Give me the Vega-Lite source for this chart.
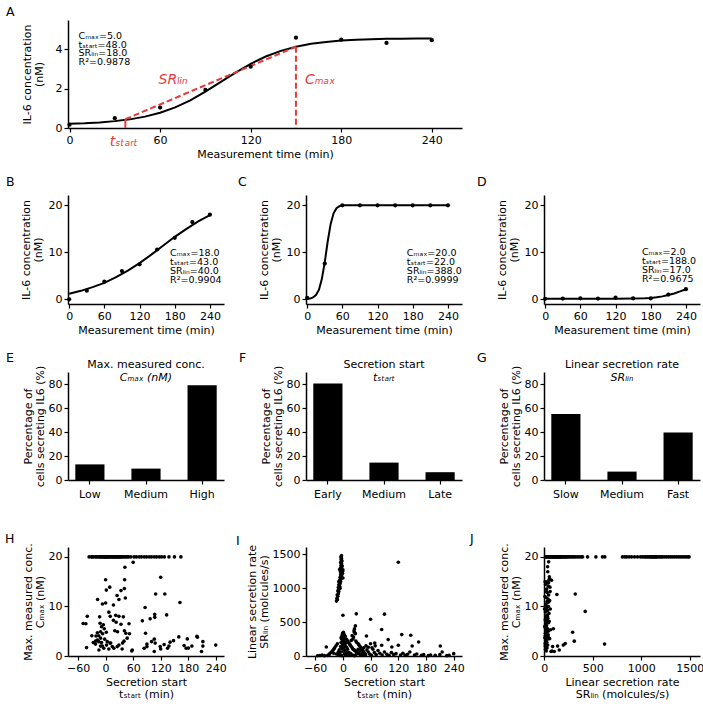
{
  "$schema": "https://vega.github.io/schema/vega-lite/v6.json",
  "background": "white",
  "padding": 5,
  "config": {
    "font": "DejaVu Sans",
    "view": {"stroke": null},
    "axis": {
      "grid": false, "domainColor": "black", "domainWidth": 1.5,
      "tickColor": "black", "tickWidth": 1.2, "tickSize": 4,
      "labelFontSize": 11, "labelColor": "black", "labelFlush": false, "labelPadding": 2,
      "titleFontSize": 11, "titleFontWeight": "normal", "titleColor": "black", "titlePadding": 3, "titleLineHeight": 12
    },
    "title": {"fontSize": 12.5, "fontWeight": "normal", "anchor": "start", "color": "black", "frame": "group"}
  },
  "datasets": {
    "ptsA": [
      {"t": 0, "c": 0.17}, {"t": 30, "c": 0.5}, {"t": 60, "c": 1.04}, {"t": 90, "c": 1.94}, {"t": 120, "c": 3.12},
      {"t": 150, "c": 4.6}, {"t": 180, "c": 4.5}, {"t": 210, "c": 4.33}, {"t": 240, "c": 4.47}
    ],
    "fitA": [
      {"t": 0, "c": 0.22}, {"t": 10, "c": 0.24}, {"t": 20, "c": 0.28}, {"t": 30, "c": 0.35}, {"t": 40, "c": 0.44},
      {"t": 50, "c": 0.58}, {"t": 60, "c": 0.78}, {"t": 70, "c": 1.05}, {"t": 80, "c": 1.41}, {"t": 90, "c": 1.85},
      {"t": 100, "c": 2.34}, {"t": 110, "c": 2.82}, {"t": 120, "c": 3.27}, {"t": 130, "c": 3.64}, {"t": 140, "c": 3.93},
      {"t": 150, "c": 4.14}, {"t": 160, "c": 4.29}, {"t": 170, "c": 4.38}, {"t": 180, "c": 4.45}, {"t": 190, "c": 4.49},
      {"t": 200, "c": 4.52}, {"t": 210, "c": 4.54}, {"t": 220, "c": 4.55}, {"t": 230, "c": 4.56}, {"t": 240, "c": 4.56}
    ],
    "guideA": [
      {"seg": "lin", "t": 37, "c": 0.45}, {"seg": "lin", "t": 150, "c": 4.14},
      {"seg": "max", "t": 150, "c": 4.14}, {"seg": "max", "t": 150, "c": 0}
    ],
    "tickA": [{"t": 37, "c": 0}, {"t": 37, "c": 0.45}],
    "redA": [
      {"t": 59, "c": 2.45, "label": "SRₗᵢₙ"},
      {"t": 156, "c": 2.45, "label": "Cₘₐₓ"}
    ],
    "startA": [{"t": 36, "c": -0.7, "label": "tₛₜₐᵣₜ"}],
    "noteA": [{"t": 6, "c": 4.95, "label": "Cₘₐₓ=5.0\ntₛₜₐᵣₜ=48.0\nSRₗᵢₙ=18.0\nR²=0.9878"}],
    "ptsB": [
      {"t": 0, "c": 0}, {"t": 30, "c": 1.84}, {"t": 60, "c": 3.76}, {"t": 90, "c": 6.0}, {"t": 120, "c": 7.45},
      {"t": 150, "c": 10.6}, {"t": 180, "c": 13.1}, {"t": 210, "c": 16.45}, {"t": 240, "c": 18.0}
    ],
    "fitB": [
      {"t": 0, "c": 1.2}, {"t": 20, "c": 1.8}, {"t": 40, "c": 2.6}, {"t": 60, "c": 3.5}, {"t": 80, "c": 4.7},
      {"t": 100, "c": 6.1}, {"t": 120, "c": 7.7}, {"t": 140, "c": 9.5}, {"t": 160, "c": 11.4}, {"t": 180, "c": 13.3},
      {"t": 200, "c": 15.0}, {"t": 220, "c": 16.6}, {"t": 240, "c": 17.9}
    ],
    "noteB": [{"t": 172, "c": 11.0, "label": "Cₘₐₓ=18.0\ntₛₜₐᵣₜ=43.0\nSRₗᵢₙ=40.0\nR²=0.9904"}],
    "ptsC": [
      {"t": 0, "c": 0.3}, {"t": 30, "c": 7.6}, {"t": 60, "c": 20}, {"t": 90, "c": 20}, {"t": 120, "c": 20},
      {"t": 150, "c": 20}, {"t": 180, "c": 20}, {"t": 210, "c": 20}, {"t": 240, "c": 20}
    ],
    "fitC": [
      {"t": 0, "c": 0.1}, {"t": 5, "c": 0.15}, {"t": 10, "c": 0.4}, {"t": 15, "c": 0.9}, {"t": 20, "c": 2.0},
      {"t": 25, "c": 4.3}, {"t": 30, "c": 7.9}, {"t": 35, "c": 12.3}, {"t": 40, "c": 16.0}, {"t": 45, "c": 18.3},
      {"t": 50, "c": 19.4}, {"t": 55, "c": 19.8}, {"t": 60, "c": 20}, {"t": 240, "c": 20}
    ],
    "noteC": [{"t": 170, "c": 11.0, "label": "Cₘₐₓ=20.0\ntₛₜₐᵣₜ=22.0\nSRₗᵢₙ=388.0\nR²=0.9999"}],
    "ptsD": [
      {"t": 0, "c": 0.1}, {"t": 30, "c": 0.15}, {"t": 60, "c": 0.2}, {"t": 90, "c": 0.15}, {"t": 120, "c": 0.35},
      {"t": 150, "c": 0.2}, {"t": 180, "c": 0.2}, {"t": 210, "c": 1.0}, {"t": 240, "c": 2.15}
    ],
    "fitD": [
      {"t": 0, "c": 0.1}, {"t": 60, "c": 0.1}, {"t": 120, "c": 0.12}, {"t": 150, "c": 0.15}, {"t": 170, "c": 0.2},
      {"t": 180, "c": 0.28}, {"t": 190, "c": 0.42}, {"t": 200, "c": 0.62}, {"t": 210, "c": 0.9}, {"t": 220, "c": 1.25},
      {"t": 230, "c": 1.68}, {"t": 240, "c": 2.15}
    ],
    "noteD": [{"t": 165, "c": 11.2, "label": "Cₘₐₓ=2.0\ntₛₜₐᵣₜ=188.0\nSRₗᵢₙ=17.0\nR²=0.9675"}],
    "barE": [{"cat": "Low", "pct": 13}, {"cat": "Medium", "pct": 9.5}, {"cat": "High", "pct": 79}],
    "barF": [{"cat": "Early", "pct": 80.5}, {"cat": "Medium", "pct": 14.5}, {"cat": "Late", "pct": 6.5}],
    "barG": [{"cat": "Slow", "pct": 55}, {"cat": "Medium", "pct": 7}, {"cat": "Fast", "pct": 39.5}],
    "headE": [{"line1": "Max. measured conc.", "line2": "Cₘₐₓ  (nM)"}],
    "headF": [{"line1": "Secretion start", "line2": "tₛₜₐᵣₜ"}],
    "headG": [{"line1": "Linear secretion rate", "line2": "SRₗᵢₙ"}],
    "scatH": [
      {"t": -36, "c": 20}, {"t": -31, "c": 20}, {"t": -29, "c": 20}, {"t": -26, "c": 20}, {"t": -22, "c": 20},
      {"t": -19, "c": 20}, {"t": -16, "c": 20}, {"t": -13, "c": 20}, {"t": -11, "c": 20}, {"t": -9, "c": 20},
      {"t": -7, "c": 20}, {"t": -5, "c": 20}, {"t": -3, "c": 20}, {"t": -1, "c": 20}, {"t": 0, "c": 20},
      {"t": 1, "c": 20}, {"t": 3, "c": 20}, {"t": 5, "c": 20}, {"t": 7, "c": 20}, {"t": 9, "c": 20},
      {"t": 11, "c": 20}, {"t": 13, "c": 20}, {"t": 15, "c": 20}, {"t": 17, "c": 20}, {"t": 19, "c": 20},
      {"t": 21, "c": 20}, {"t": 23, "c": 20}, {"t": 25, "c": 20}, {"t": 27, "c": 20}, {"t": 29, "c": 20},
      {"t": 31, "c": 20}, {"t": 33, "c": 20}, {"t": 35, "c": 20}, {"t": 38, "c": 20}, {"t": 41, "c": 20},
      {"t": 44, "c": 20}, {"t": 47, "c": 20}, {"t": 50, "c": 20}, {"t": 55, "c": 20}, {"t": 62, "c": 20},
      {"t": 67, "c": 20}, {"t": 73, "c": 20}, {"t": 78, "c": 20}, {"t": 84, "c": 20}, {"t": 89, "c": 20},
      {"t": 95, "c": 20}, {"t": 100, "c": 20}, {"t": 106, "c": 20}, {"t": 111, "c": 20}, {"t": 117, "c": 20},
      {"t": 122, "c": 20}, {"t": 128, "c": 20}, {"t": 138, "c": 20}, {"t": 150, "c": 20}, {"t": 164, "c": 20},
      {"t": 42, "c": 17.9}, {"t": 60, "c": 18.9}, {"t": 0, "c": 15.4}, {"t": 9, "c": 13.9}, {"t": 1.5, "c": 13.3},
      {"t": 41.5, "c": 15.4}, {"t": 41, "c": 13.6}, {"t": 33.5, "c": 13.2}, {"t": 25, "c": 12.2}, {"t": 43, "c": 11.7},
      {"t": 29, "c": 11.4}, {"t": -17.5, "c": 11.4}, {"t": 0, "c": 10.7}, {"t": -7, "c": 10.5}, {"t": 17, "c": 10.3},
      {"t": 120, "c": 15.9}, {"t": 109, "c": 12.5}, {"t": 129, "c": 12.5}, {"t": 162, "c": 10.8}, {"t": 86, "c": 9.8},
      {"t": -40, "c": 8.0}, {"t": -13, "c": 7.9}, {"t": 7, "c": 8.85}, {"t": 10, "c": 8.0}, {"t": 22, "c": 8.2},
      {"t": 29, "c": 8.0}, {"t": 38.6, "c": 7.9}, {"t": 17, "c": 7.2}, {"t": 23, "c": 6.8}, {"t": 33.5, "c": 6.4},
      {"t": -49, "c": 6.55}, {"t": -43, "c": 6.5}, {"t": 51, "c": 6.5}, {"t": 80, "c": 7.1}, {"t": 97, "c": 7.5},
      {"t": 107, "c": 7.8}, {"t": 107, "c": 8.4}, {"t": 133, "c": 8.3}, {"t": -12, "c": 6.6}, {"t": -9, "c": 5.9},
      {"t": -5, "c": 6.3}, {"t": -3, "c": 5.5}, {"t": -11, "c": 4.9}, {"t": -18, "c": 4.7}, {"t": -21, "c": 4.05},
      {"t": -30, "c": 4.1}, {"t": -15, "c": 4.1}, {"t": -6.5, "c": 4.5}, {"t": 1.5, "c": 4.8}, {"t": -11, "c": 3.6},
      {"t": -2, "c": 3.4}, {"t": -22, "c": 3.0}, {"t": -15, "c": 2.9}, {"t": -9, "c": 2.7}, {"t": 3.6, "c": 2.9},
      {"t": 11, "c": 2.6}, {"t": 20, "c": 5.1}, {"t": 26, "c": 4.9}, {"t": 41, "c": 5.1}, {"t": 44, "c": 4.6},
      {"t": 52, "c": 4.5}, {"t": 47, "c": 3.6}, {"t": 40, "c": 3.0}, {"t": 87, "c": 4.6}, {"t": 106, "c": 3.4},
      {"t": 100, "c": 2.9}, {"t": 90, "c": 2.4}, {"t": 90, "c": 1.9}, {"t": 159.5, "c": 3.85}, {"t": 148, "c": 3.1},
      {"t": 140.5, "c": 2.8}, {"t": 127.5, "c": 2.3}, {"t": 119, "c": 1.9}, {"t": 108, "c": 2.6}, {"t": 135, "c": 1.55},
      {"t": 138, "c": 2.0}, {"t": 171, "c": 2.1}, {"t": 178, "c": 3.45}, {"t": 188, "c": 2.0}, {"t": 175.5, "c": 1.55},
      {"t": 180.5, "c": 1.6}, {"t": 199, "c": 4.0}, {"t": 200, "c": 3.8}, {"t": 212, "c": 2.9}, {"t": 212, "c": 2.0},
      {"t": 209, "c": 0.9}, {"t": 240, "c": 2.2}, {"t": -41.5, "c": 1.7}, {"t": -14.6, "c": 1.2}, {"t": -7, "c": 2.0},
      {"t": 2, "c": 2.2}, {"t": 14.6, "c": 1.9}, {"t": 25.5, "c": 1.9}, {"t": 18, "c": 1.55}, {"t": 7, "c": 1.4},
      {"t": 29, "c": 2.2}, {"t": 37, "c": 2.6}, {"t": 36, "c": 1.4}, {"t": 57, "c": 1.0}, {"t": 58, "c": 1.2},
      {"t": 84, "c": 1.55}, {"t": 106, "c": 0.9}, {"t": 120, "c": 1.4}, {"t": -22, "c": 2.4}, {"t": -11, "c": 2.0},
      {"t": -4, "c": 1.55}, {"t": 9.5, "c": 2.6}, {"t": -18, "c": 3.2}, {"t": -27, "c": 2.7}
    ],
    "scatI": [
      {"t": -14, "sr": 810}, {"t": -13, "sr": 850}, {"t": -12, "sr": 830}, {"t": -11, "sr": 880}, {"t": -12.5, "sr": 900},
      {"t": -10, "sr": 920}, {"t": -9, "sr": 950}, {"t": -11, "sr": 960}, {"t": -8, "sr": 990}, {"t": -10, "sr": 1010},
      {"t": -7, "sr": 1030}, {"t": -9, "sr": 1050}, {"t": -6, "sr": 1070}, {"t": -8, "sr": 1090}, {"t": -5, "sr": 1100},
      {"t": -7, "sr": 1120}, {"t": -4, "sr": 1140}, {"t": -6, "sr": 1160}, {"t": -3, "sr": 1180}, {"t": -5, "sr": 1200},
      {"t": -2, "sr": 1210}, {"t": -4, "sr": 1230}, {"t": -1, "sr": 1250}, {"t": -6, "sr": 1260}, {"t": -3, "sr": 1280},
      {"t": -5, "sr": 1300}, {"t": -2, "sr": 1320}, {"t": -4, "sr": 1340}, {"t": -3, "sr": 1360}, {"t": -5, "sr": 1380},
      {"t": -2, "sr": 1400}, {"t": -4, "sr": 1420}, {"t": -3, "sr": 1440}, {"t": -4.5, "sr": 1460}, {"t": -3, "sr": 1480},
      {"t": -2, "sr": 1330}, {"t": 0, "sr": 1270}, {"t": -1, "sr": 1220}, {"t": 0, "sr": 1150}, {"t": -7, "sr": 1280},
      {"t": -5, "sr": 1240}, {"t": -6, "sr": 1000}, {"t": -9, "sr": 1100},
      {"t": 120, "sr": 1382}, {"t": 0, "sr": 602}, {"t": 29, "sr": 622}, {"t": 60, "sr": 543}, {"t": 90, "sr": 617},
      {"t": 84, "sr": 390}, {"t": 127.5, "sr": 316}, {"t": 147, "sr": 306}, {"t": 27, "sr": 444}, {"t": 51, "sr": 296},
      {"t": 164, "sr": 207}, {"t": 98, "sr": 242}, {"t": 120, "sr": 158}, {"t": 150, "sr": 148}, {"t": 211, "sr": 148},
      {"t": 240, "sr": 35}, {"t": -36, "sr": 133}, {"t": 69, "sr": 192}, {"t": 84, "sr": 158}, {"t": 106, "sr": 133},
      {"t": 0, "sr": 340}, {"t": 2, "sr": 320}, {"t": -2, "sr": 300}, {"t": 1, "sr": 280}, {"t": 4, "sr": 260},
      {"t": -3, "sr": 250}, {"t": 0, "sr": 230}, {"t": 3, "sr": 210}, {"t": -4, "sr": 200}, {"t": 6, "sr": 190},
      {"t": 1, "sr": 180}, {"t": -1, "sr": 160}, {"t": 5, "sr": 150}, {"t": -5, "sr": 140}, {"t": 8, "sr": 130},
      {"t": 2, "sr": 120}, {"t": -2, "sr": 110}, {"t": 10, "sr": 100}, {"t": -8, "sr": 90}, {"t": 4, "sr": 80},
      {"t": 0, "sr": 70}, {"t": 7, "sr": 60}, {"t": -6, "sr": 50}, {"t": 12, "sr": 40}, {"t": 3, "sr": 30},
      {"t": -10, "sr": 20}, {"t": 15, "sr": 10}, {"t": -3, "sr": 5}, {"t": 1, "sr": 350}, {"t": -1, "sr": 330},
      {"t": 3, "sr": 310}, {"t": 5, "sr": 290}, {"t": -4, "sr": 270}, {"t": 8, "sr": 245}, {"t": 10, "sr": 220},
      {"t": 12, "sr": 200}, {"t": 14, "sr": 180}, {"t": 16, "sr": 160}, {"t": 18, "sr": 140}, {"t": 20, "sr": 120},
      {"t": 22, "sr": 100}, {"t": 24, "sr": 90}, {"t": 26, "sr": 80}, {"t": 28, "sr": 70}, {"t": 30, "sr": 60},
      {"t": 32, "sr": 50}, {"t": 34, "sr": 40}, {"t": 36, "sr": 30}, {"t": 38, "sr": 20}, {"t": 40, "sr": 10},
      {"t": 20, "sr": 300}, {"t": 23, "sr": 280}, {"t": 25, "sr": 350}, {"t": 27, "sr": 330}, {"t": 22, "sr": 250},
      {"t": 18, "sr": 230}, {"t": 28, "sr": 220}, {"t": 30, "sr": 200}, {"t": 33, "sr": 180}, {"t": 35, "sr": 160},
      {"t": 37, "sr": 140}, {"t": 39, "sr": 120}, {"t": 41, "sr": 100}, {"t": 43, "sr": 80}, {"t": 45, "sr": 60},
      {"t": 47, "sr": 40}, {"t": 49, "sr": 20}, {"t": -12, "sr": 180}, {"t": -15, "sr": 150}, {"t": -18, "sr": 120},
      {"t": -20, "sr": 100}, {"t": -22, "sr": 80}, {"t": -25, "sr": 60}, {"t": -28, "sr": 40}, {"t": -30, "sr": 20},
      {"t": -33, "sr": 10}, {"t": -40, "sr": 5}, {"t": -45, "sr": 15}, {"t": -50, "sr": 8}, {"t": -55, "sr": 3},
      {"t": -10, "sr": 60}, {"t": -14, "sr": 30}, {"t": -8, "sr": 10}, {"t": -20, "sr": 40}, {"t": 6, "sr": 10},
      {"t": 9, "sr": 25}, {"t": 13, "sr": 55}, {"t": 17, "sr": 35}, {"t": 21, "sr": 15}, {"t": 25, "sr": 5},
      {"t": 29, "sr": 25}, {"t": 33, "sr": 100}, {"t": 37, "sr": 75}, {"t": 42, "sr": 35}, {"t": 46, "sr": 15},
      {"t": 52, "sr": 90}, {"t": 55, "sr": 60}, {"t": 58, "sr": 30}, {"t": 62, "sr": 10}, {"t": 65, "sr": 100},
      {"t": 68, "sr": 50}, {"t": 72, "sr": 20}, {"t": 76, "sr": 80}, {"t": 80, "sr": 40}, {"t": 85, "sr": 15},
      {"t": 90, "sr": 60}, {"t": 95, "sr": 25}, {"t": 100, "sr": 10}, {"t": 105, "sr": 50}, {"t": 110, "sr": 20},
      {"t": 115, "sr": 35}, {"t": 125, "sr": 15}, {"t": 130, "sr": 40}, {"t": 135, "sr": 10}, {"t": 140, "sr": 25},
      {"t": 145, "sr": 60}, {"t": 155, "sr": 15}, {"t": 160, "sr": 30}, {"t": 170, "sr": 10}, {"t": 175, "sr": 20},
      {"t": 185, "sr": 5}, {"t": 190, "sr": 15}, {"t": 200, "sr": 10}, {"t": 210, "sr": 20}, {"t": 215, "sr": 60},
      {"t": 225, "sr": 5}, {"t": 230, "sr": 10}, {"t": 45, "sr": 120}, {"t": 50, "sr": 150}, {"t": 55, "sr": 130},
      {"t": 60, "sr": 180}, {"t": 63, "sr": 120}, {"t": 70, "sr": 150}, {"t": 25, "sr": 400}, {"t": 24, "sr": 370}
    ],
    "scatJ": [
      {"sr": 17, "c": 20}, {"sr": 25, "c": 20}, {"sr": 32, "c": 20}, {"sr": 40, "c": 20}, {"sr": 48, "c": 20},
      {"sr": 55, "c": 20}, {"sr": 62, "c": 20}, {"sr": 70, "c": 20}, {"sr": 78, "c": 20}, {"sr": 85, "c": 20},
      {"sr": 92, "c": 20}, {"sr": 100, "c": 20}, {"sr": 108, "c": 20}, {"sr": 115, "c": 20}, {"sr": 122, "c": 20},
      {"sr": 130, "c": 20}, {"sr": 138, "c": 20}, {"sr": 145, "c": 20}, {"sr": 152, "c": 20}, {"sr": 160, "c": 20},
      {"sr": 168, "c": 20}, {"sr": 175, "c": 20}, {"sr": 185, "c": 20}, {"sr": 195, "c": 20}, {"sr": 205, "c": 20},
      {"sr": 215, "c": 20}, {"sr": 225, "c": 20}, {"sr": 235, "c": 20}, {"sr": 245, "c": 20}, {"sr": 260, "c": 20},
      {"sr": 275, "c": 20}, {"sr": 290, "c": 20}, {"sr": 305, "c": 20}, {"sr": 320, "c": 20}, {"sr": 340, "c": 20},
      {"sr": 360, "c": 20}, {"sr": 380, "c": 20}, {"sr": 395, "c": 20}, {"sr": 446, "c": 20}, {"sr": 532, "c": 20},
      {"sr": 600, "c": 20}, {"sr": 624, "c": 20}, {"sr": 806, "c": 20}, {"sr": 830, "c": 20}, {"sr": 850, "c": 20},
      {"sr": 875, "c": 20}, {"sr": 900, "c": 20}, {"sr": 930, "c": 20}, {"sr": 960, "c": 20}, {"sr": 990, "c": 20},
      {"sr": 1010, "c": 20}, {"sr": 1030, "c": 20}, {"sr": 1046, "c": 20}, {"sr": 1060, "c": 20}, {"sr": 1075, "c": 20},
      {"sr": 1090, "c": 20}, {"sr": 1100, "c": 20}, {"sr": 1110, "c": 20}, {"sr": 1120, "c": 20}, {"sr": 1130, "c": 20},
      {"sr": 1140, "c": 20}, {"sr": 1150, "c": 20}, {"sr": 1160, "c": 20}, {"sr": 1175, "c": 20}, {"sr": 1190, "c": 20},
      {"sr": 1205, "c": 20}, {"sr": 1220, "c": 20}, {"sr": 1240, "c": 20}, {"sr": 1260, "c": 20}, {"sr": 1280, "c": 20},
      {"sr": 1300, "c": 20}, {"sr": 1320, "c": 20}, {"sr": 1340, "c": 20}, {"sr": 1360, "c": 20}, {"sr": 1380, "c": 20},
      {"sr": 1400, "c": 20}, {"sr": 1420, "c": 20}, {"sr": 1440, "c": 20}, {"sr": 1460, "c": 20}, {"sr": 1480, "c": 20},
      {"sr": 1492, "c": 20},
      {"sr": 130, "c": 12.4}, {"sr": 319, "c": 12.5}, {"sr": 422, "c": 9.0}, {"sr": 292, "c": 4.8}, {"sr": 309, "c": 3.0},
      {"sr": 621, "c": 2.4}, {"sr": 93, "c": 5.5}, {"sr": 86, "c": 1.9}, {"sr": 137, "c": 2.0}, {"sr": 154, "c": 1.2},
      {"sr": 196, "c": 2.2}, {"sr": 216, "c": 2.5}, {"sr": 69, "c": 0.9}, {"sr": 103, "c": 0.9}, {"sr": 79, "c": 1.0},
      {"sr": 45, "c": 19}, {"sr": 34, "c": 18}, {"sr": 51, "c": 15.5}, {"sr": 75, "c": 15.3}, {"sr": 41, "c": 14.1},
      {"sr": 58, "c": 13.9}, {"sr": 24, "c": 13.5}, {"sr": 30, "c": 12.8}, {"sr": 45, "c": 12.3}, {"sr": 20, "c": 11.8},
      {"sr": 38, "c": 11.5}, {"sr": 55, "c": 11.2}, {"sr": 28, "c": 10.7}, {"sr": 15, "c": 10.3}, {"sr": 42, "c": 10.0},
      {"sr": 22, "c": 9.6}, {"sr": 33, "c": 9.2}, {"sr": 12, "c": 8.9}, {"sr": 48, "c": 8.6}, {"sr": 25, "c": 8.2},
      {"sr": 18, "c": 7.9}, {"sr": 36, "c": 7.6}, {"sr": 10, "c": 7.3}, {"sr": 29, "c": 7.0}, {"sr": 44, "c": 6.7},
      {"sr": 16, "c": 6.4}, {"sr": 23, "c": 6.1}, {"sr": 8, "c": 5.8}, {"sr": 34, "c": 5.5}, {"sr": 19, "c": 5.2},
      {"sr": 27, "c": 4.9}, {"sr": 12, "c": 4.6}, {"sr": 40, "c": 4.3}, {"sr": 22, "c": 4.0}, {"sr": 6, "c": 3.7},
      {"sr": 31, "c": 3.4}, {"sr": 15, "c": 3.1}, {"sr": 25, "c": 2.8}, {"sr": 9, "c": 2.5}, {"sr": 35, "c": 2.2},
      {"sr": 18, "c": 1.9}, {"sr": 28, "c": 1.6}, {"sr": 12, "c": 1.3}, {"sr": 20, "c": 1.0}, {"sr": 7, "c": 12.0},
      {"sr": 14, "c": 14.5}, {"sr": 30, "c": 15.0}, {"sr": 52, "c": 16.0}, {"sr": 60, "c": 13.0}, {"sr": 26, "c": 9.9},
      {"sr": 50, "c": 7.0}, {"sr": 40, "c": 5.0}, {"sr": 55, "c": 3.5}, {"sr": 10, "c": 2.0}, {"sr": 5, "c": 6.0},
      {"sr": 32, "c": 8.0}, {"sr": 46, "c": 10.9}, {"sr": 21, "c": 13.0}, {"sr": 36, "c": 17.0}, {"sr": 44, "c": 14.8},
      {"sr": 58, "c": 15.5}, {"sr": 13, "c": 4.2}, {"sr": 24, "c": 6.8}, {"sr": 38, "c": 3.9}, {"sr": 17, "c": 9.1},
      {"sr": 29, "c": 11.0}, {"sr": 3, "c": 9.5}, {"sr": 8, "c": 15.0}, {"sr": 62, "c": 9.5}, {"sr": 65, "c": 5.3}
    ]
  },
  "vconcat": [
    {
      "vconcat": [
        {
          "width": 394, "height": 108,
          "title": {"text": "A", "dx": -62, "offset": 2},
          "encoding": {
            "x": {"field": "t", "type": "quantitative", "scale": {"domain": [-1, 260], "nice": false},
                  "axis": {"values": [0, 60, 120, 180, 240], "title": "Measurement time (min)"}},
            "y": {"field": "c", "type": "quantitative", "scale": {"domain": [0, 5.5], "nice": false},
                  "axis": {"values": [0, 2, 4], "title": ["IL-6 concentration", "(nM)"], "titlePadding": 11}}
          },
          "layer": [
            {"data": {"name": "fitA"}, "mark": {"type": "line", "color": "black", "strokeWidth": 2}},
            {"data": {"name": "guideA"}, "mark": {"type": "line", "color": "#e5393b", "strokeWidth": 2, "strokeDash": [6, 3]},
             "encoding": {"detail": {"field": "seg"}}},
            {"data": {"name": "tickA"}, "mark": {"type": "line", "color": "#e5393b", "strokeWidth": 2}},
            {"data": {"name": "ptsA"}, "mark": {"type": "circle", "size": 18, "color": "black", "opacity": 1}},
            {"data": {"name": "redA"}, "mark": {"type": "text", "color": "#e5393b", "fontSize": 14, "fontStyle": "italic", "align": "left", "baseline": "middle"},
             "encoding": {"text": {"field": "label"}}},
            {"data": {"name": "startA"}, "mark": {"type": "text", "color": "#e5393b", "fontSize": 14, "fontStyle": "italic", "align": "center", "baseline": "middle"},
             "encoding": {"text": {"field": "label"}}},
            {"data": {"name": "noteA"}, "mark": {"type": "text", "color": "black", "fontSize": 9.5, "align": "left", "baseline": "top", "lineBreak": "\n", "lineHeight": 8.8},
             "encoding": {"text": {"field": "label"}}}
          ]
        },
        {
          "hconcat": [
            {
              "width": 156, "height": 109,
              "title": {"text": "B", "dx": -62, "offset": 7},
              "encoding": {
                "x": {"field": "t", "type": "quantitative", "scale": {"domain": [-2, 264], "nice": false},
                      "axis": {"values": [0, 60, 120, 180, 240], "title": "Measurement time (min)"}},
                "y": {"field": "c", "type": "quantitative", "scale": {"domain": [-1, 22.2], "nice": false},
                      "axis": {"values": [0, 10, 20], "title": ["IL-6 concentration", "(nM)"], "titlePadding": 5}}
              },
              "layer": [
                {"data": {"name": "fitB"}, "mark": {"type": "line", "color": "black", "strokeWidth": 2}},
                {"data": {"name": "ptsB"}, "mark": {"type": "circle", "size": 18, "color": "black", "opacity": 1}},
                {"data": {"name": "noteB"}, "mark": {"type": "text", "color": "black", "fontSize": 9.5, "align": "left", "baseline": "top", "lineBreak": "\n", "lineHeight": 9},
                 "encoding": {"text": {"field": "label"}}}
              ]
            },
            {
              "width": 156, "height": 109,
              "title": {"text": "C", "dx": -68, "offset": 7},
              "encoding": {
                "x": {"field": "t", "type": "quantitative", "scale": {"domain": [-2, 264], "nice": false},
                      "axis": {"values": [0, 60, 120, 180, 240], "title": "Measurement time (min)"}},
                "y": {"field": "c", "type": "quantitative", "scale": {"domain": [-1, 22.2], "nice": false},
                      "axis": {"values": [0, 10, 20], "title": ["IL-6 concentration", "(nM)"], "titlePadding": 5}}
              },
              "layer": [
                {"data": {"name": "fitC"}, "mark": {"type": "line", "color": "black", "strokeWidth": 2}},
                {"data": {"name": "ptsC"}, "mark": {"type": "circle", "size": 18, "color": "black", "opacity": 1}},
                {"data": {"name": "noteC"}, "mark": {"type": "text", "color": "black", "fontSize": 9.5, "align": "left", "baseline": "top", "lineBreak": "\n", "lineHeight": 9},
                 "encoding": {"text": {"field": "label"}}}
              ]
            },
            {
              "width": 156, "height": 109,
              "title": {"text": "D", "dx": -67, "offset": 7},
              "encoding": {
                "x": {"field": "t", "type": "quantitative", "scale": {"domain": [-2, 264], "nice": false},
                      "axis": {"values": [0, 60, 120, 180, 240], "title": "Measurement time (min)"}},
                "y": {"field": "c", "type": "quantitative", "scale": {"domain": [-1, 22.2], "nice": false},
                      "axis": {"values": [0, 10, 20], "title": ["IL-6 concentration", "(nM)"], "titlePadding": 5}}
              },
              "layer": [
                {"data": {"name": "fitD"}, "mark": {"type": "line", "color": "black", "strokeWidth": 2}},
                {"data": {"name": "ptsD"}, "mark": {"type": "circle", "size": 18, "color": "black", "opacity": 1}},
                {"data": {"name": "noteD"}, "mark": {"type": "text", "color": "black", "fontSize": 9.5, "align": "left", "baseline": "top", "lineBreak": "\n", "lineHeight": 9},
                 "encoding": {"text": {"field": "label"}}}
              ]
            }
          ],
          "spacing": 82, "bounds": "flush"
        }
      ],
      "spacing": 16
    },
    {
      "vconcat": [
        {
          "hconcat": [
            {
              "width": 156, "height": 108,
              "title": {"text": "E", "dx": -62, "offset": -5},
              "layer": [
                {"data": {"name": "barE"}, "mark": {"type": "bar", "color": "black"},
                 "encoding": {
                   "x": {"field": "cat", "type": "nominal", "sort": ["Low", "Medium", "High"], "scale": {"paddingInner": 0.48, "paddingOuter": 0.13},
                         "axis": {"title": null, "labelAngle": 0, "labelPadding": 4}},
                   "y": {"field": "pct", "type": "quantitative", "scale": {"domain": [0, 90], "nice": false},
                         "axis": {"values": [0, 20, 40, 60, 80], "title": ["Percentage of", "cells secreting IL6 (%)"]}}
                 }},
                {"data": {"name": "headE"}, "mark": {"type": "text", "fontSize": 11, "color": "black"},
                 "encoding": {"text": {"field": "line1"}, "x": {"datum": "Medium"},
                   "y": {"datum": 95.8, "type": "quantitative", "axis": {"values": [0, 20, 40, 60, 80], "title": ["Percentage of", "cells secreting IL6 (%)"]}}}},
                {"data": {"name": "headE"}, "mark": {"type": "text", "fontSize": 11, "color": "black", "fontStyle": "italic"},
                 "encoding": {"text": {"field": "line2"}, "x": {"datum": "Medium"},
                   "y": {"datum": 85, "type": "quantitative", "axis": {"values": [0, 20, 40, 60, 80], "title": ["Percentage of", "cells secreting IL6 (%)"]}}}}
              ]
            },
            {
              "width": 156, "height": 108,
              "title": {"text": "F", "dx": -67, "offset": -5},
              "layer": [
                {"data": {"name": "barF"}, "mark": {"type": "bar", "color": "black"},
                 "encoding": {
                   "x": {"field": "cat", "type": "nominal", "sort": ["Early", "Medium", "Late"], "scale": {"paddingInner": 0.48, "paddingOuter": 0.13},
                         "axis": {"title": null, "labelAngle": 0, "labelPadding": 4}},
                   "y": {"field": "pct", "type": "quantitative", "scale": {"domain": [0, 90], "nice": false},
                         "axis": {"values": [0, 20, 40, 60, 80], "title": ["Percentage of", "cells secreting IL6 (%)"]}}
                 }},
                {"data": {"name": "headF"}, "mark": {"type": "text", "fontSize": 11, "color": "black"},
                 "encoding": {"text": {"field": "line1"}, "x": {"datum": "Medium"},
                   "y": {"datum": 95.8, "type": "quantitative", "axis": {"values": [0, 20, 40, 60, 80], "title": ["Percentage of", "cells secreting IL6 (%)"]}}}},
                {"data": {"name": "headF"}, "mark": {"type": "text", "fontSize": 11, "color": "black", "fontStyle": "italic"},
                 "encoding": {"text": {"field": "line2"}, "x": {"datum": "Medium"},
                   "y": {"datum": 85, "type": "quantitative", "axis": {"values": [0, 20, 40, 60, 80], "title": ["Percentage of", "cells secreting IL6 (%)"]}}}}
              ]
            },
            {
              "width": 156, "height": 108,
              "title": {"text": "G", "dx": -67, "offset": -5},
              "layer": [
                {"data": {"name": "barG"}, "mark": {"type": "bar", "color": "black"},
                 "encoding": {
                   "x": {"field": "cat", "type": "nominal", "sort": ["Slow", "Medium", "Fast"], "scale": {"paddingInner": 0.48, "paddingOuter": 0.13},
                         "axis": {"title": null, "labelAngle": 0, "labelPadding": 4}},
                   "y": {"field": "pct", "type": "quantitative", "scale": {"domain": [0, 90], "nice": false},
                         "axis": {"values": [0, 20, 40, 60, 80], "title": ["Percentage of", "cells secreting IL6 (%)"]}}
                 }},
                {"data": {"name": "headG"}, "mark": {"type": "text", "fontSize": 11, "color": "black"},
                 "encoding": {"text": {"field": "line1"}, "x": {"datum": "Medium"},
                   "y": {"datum": 95.8, "type": "quantitative", "axis": {"values": [0, 20, 40, 60, 80], "title": ["Percentage of", "cells secreting IL6 (%)"]}}}},
                {"data": {"name": "headG"}, "mark": {"type": "text", "fontSize": 11, "color": "black", "fontStyle": "italic"},
                 "encoding": {"text": {"field": "line2"}, "x": {"datum": "Medium"},
                   "y": {"datum": 85, "type": "quantitative", "axis": {"values": [0, 20, 40, 60, 80], "title": ["Percentage of", "cells secreting IL6 (%)"]}}}}
              ]
            }
          ],
          "spacing": 82, "bounds": "flush"
        },
        {
          "hconcat": [
            {
              "data": {"name": "scatH"}, "width": 156, "height": 109,
              "title": {"text": "H", "dx": -63, "offset": -3},
              "mark": {"type": "circle", "size": 13, "color": "black", "opacity": 1},
              "encoding": {
                "x": {"field": "t", "type": "quantitative", "scale": {"domain": [-82, 258], "nice": false},
                      "axis": {"values": [-60, 0, 60, 120, 180, 240], "title": ["Secretion start", "tₛₜₐᵣₜ (min)"]}},
                "y": {"field": "c", "type": "quantitative", "scale": {"domain": [0, 22], "nice": false},
                      "axis": {"values": [0, 10, 20], "title": ["Max. measured conc.", "Cₘₐₓ  (nM)"]}}
              }
            },
            {
              "data": {"name": "scatI"}, "width": 156, "height": 109,
              "title": {"text": "I", "dx": -70, "offset": -3},
              "mark": {"type": "circle", "size": 13, "color": "black", "opacity": 1},
              "encoding": {
                "x": {"field": "t", "type": "quantitative", "scale": {"domain": [-80, 258], "nice": false},
                      "axis": {"values": [-60, 0, 60, 120, 180, 240], "title": ["Secretion start", "tₛₜₐᵣₜ (min)"]}},
                "y": {"field": "sr", "type": "quantitative", "scale": {"domain": [0, 1608], "nice": false},
                      "axis": {"values": [0, 500, 1000, 1500], "format": "d", "title": ["Linear secretion rate", "SRₗᵢₙ (molcules/s)"]}}
              }
            },
            {
              "data": {"name": "scatJ"}, "width": 156, "height": 109,
              "title": {"text": "J", "dx": -74, "offset": -3},
              "mark": {"type": "circle", "size": 13, "color": "black", "opacity": 1},
              "encoding": {
                "x": {"field": "sr", "type": "quantitative", "scale": {"domain": [-3, 1605], "nice": false},
                      "axis": {"values": [0, 500, 1000, 1500], "format": "d", "title": ["Linear secretion rate", "SRₗᵢₙ (molcules/s)"]}},
                "y": {"field": "c", "type": "quantitative", "scale": {"domain": [0, 22], "nice": false},
                      "axis": {"values": [0, 10, 20], "title": ["Max. measured conc.", "Cₘₐₓ  (nM)"]}}
              }
            }
          ],
          "spacing": 82, "bounds": "flush"
        }
      ],
      "spacing": 34
    }
  ],
  "spacing": 16
}
